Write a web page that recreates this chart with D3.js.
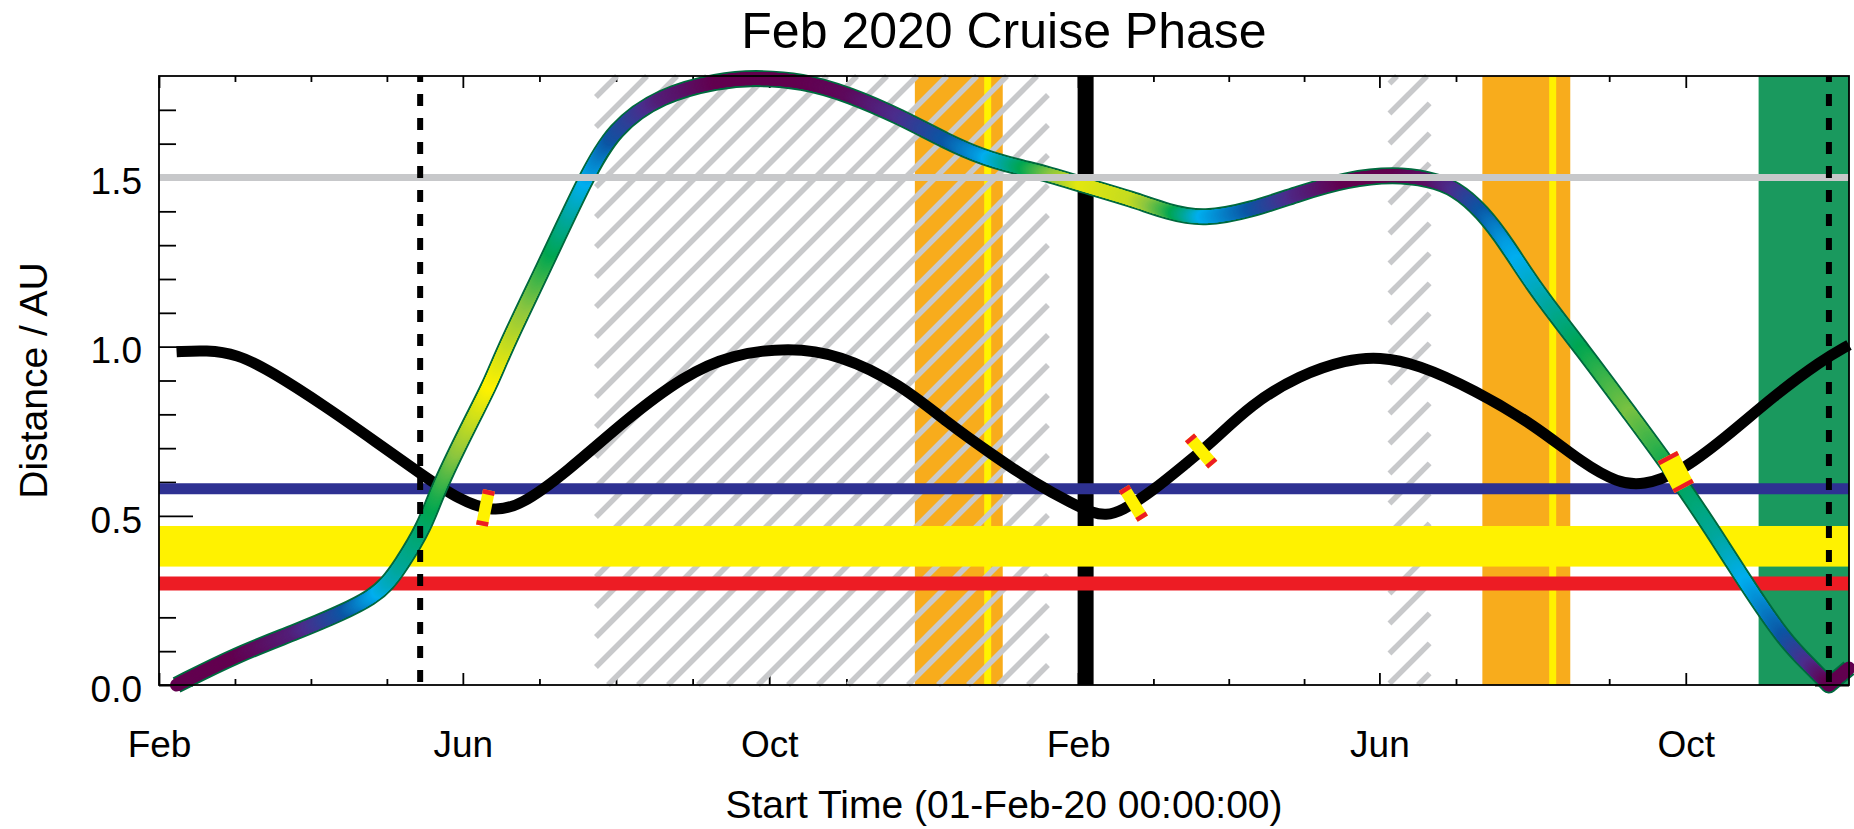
<!DOCTYPE html>
<html>
<head>
<meta charset="utf-8">
<script src="https://cdn.jsdelivr.net/npm/d3@7"></script>
<style>
  body { margin: 0; background: #fff; }
  svg { display: block; font-family: "Liberation Sans", Arial, Helvetica, sans-serif; }
</style>
</head>
<body>
<svg id="chart" width="1854" height="829"></svg>
<script>
// ---- data ----
const xDomain = ["2020-02-01", "2021-12-05"];
const majorTickDates = ["2020-02-01", "2020-06-01", "2020-10-01", "2021-02-01", "2021-06-01", "2021-10-01", "2022-02-01"];
const majorTickLabels = ["Feb", "Jun", "Oct", "Feb", "Jun", "Oct", "Feb"];
const yTickValues = [0, 0.5, 1.0, 1.5];
const yTickLabels = ["0.0", "0.5", "1.0", "1.5"];

// distance from the Sun (black curve)
const sunDates = ["2020-02-08", "2020-02-20", "2020-03-03", "2020-03-16", "2020-04-08", "2020-04-28",
  "2020-05-15", "2020-05-31", "2020-06-13", "2020-06-24", "2020-07-12", "2020-08-05", "2020-08-28",
  "2020-09-16", "2020-10-09", "2020-10-29", "2020-11-22", "2020-12-11", "2020-12-29", "2021-01-15",
  "2021-01-30", "2021-02-07", "2021-02-12", "2021-02-18", "2021-03-03", "2021-03-16", "2021-03-26",
  "2021-04-11", "2021-04-30", "2021-05-19", "2021-06-01", "2021-06-16", "2021-07-09", "2021-08-02",
  "2021-08-21", "2021-09-04", "2021-09-14", "2021-09-28", "2021-10-17", "2021-11-05", "2021-11-24",
  "2021-12-05"];
const sunDist = [0.985, 0.99, 0.978, 0.93, 0.82, 0.715,
  0.625, 0.545, 0.512, 0.53, 0.627, 0.785, 0.914,
  0.977, 0.998, 0.977, 0.89, 0.775, 0.68, 0.595,
  0.535, 0.508, 0.502, 0.512, 0.575, 0.655, 0.715,
  0.83, 0.915, 0.962, 0.97, 0.949, 0.872, 0.767,
  0.655, 0.597, 0.59, 0.625, 0.732, 0.854, 0.959,
  1.005];

// distance from the Earth (coloured curve) and its colour index
const earthDates = ["2020-02-08", "2020-03-03", "2020-03-26", "2020-04-14", "2020-04-26", "2020-05-02",
  "2020-05-07", "2020-05-17", "2020-05-22", "2020-06-05", "2020-06-12", "2020-06-18", "2020-07-03",
  "2020-07-20", "2020-07-31", "2020-08-19", "2020-09-11", "2020-09-25", "2020-10-14", "2020-11-02",
  "2020-11-22", "2020-12-11", "2020-12-25", "2021-01-07", "2021-01-21", "2021-02-03", "2021-02-23",
  "2021-03-09", "2021-03-23", "2021-04-11", "2021-04-30", "2021-05-19", "2021-06-07", "2021-06-21",
  "2021-07-01", "2021-07-12", "2021-07-22", "2021-08-02", "2021-08-21", "2021-09-09", "2021-09-27",
  "2021-10-14", "2021-10-25", "2021-11-09", "2021-11-19", "2021-11-27", "2021-12-05"];
const earthDist = [0.0, 0.09, 0.155, 0.214, 0.26, 0.30,
  0.35, 0.47, 0.58, 0.79, 0.89, 1.0, 1.23,
  1.5, 1.645, 1.745, 1.787, 1.795, 1.787, 1.745,
  1.68, 1.605, 1.56, 1.533, 1.508, 1.478, 1.435,
  1.397, 1.376, 1.404, 1.453, 1.495, 1.51, 1.495,
  1.47, 1.40, 1.30, 1.17, 0.99, 0.80, 0.62,
  0.43, 0.30, 0.135, 0.06, 0.0, 0.05];
const earthColour = [0, 0, 0.1, 0.28, 0.42, 0.5,
  0.55, 0.62, 0.68, 0.9, 1.0, 0.92, 0.7,
  0.45, 0.28, 0.1, 0, 0, 0, 0.03,
  0.15, 0.3, 0.42, 0.6, 0.78, 0.95, 0.9,
  0.7, 0.45, 0.3, 0.12, 0, 0, 0.05,
  0.15, 0.3, 0.42, 0.5, 0.65, 0.78, 0.65,
  0.55, 0.45, 0.3, 0.15, 0, 0];

const hatchWindows = [["2020-07-24", "2021-01-20"], ["2021-06-05", "2021-06-21"]];
const venusWindows = [["2020-11-28", "2021-01-02"], ["2021-07-12", "2021-08-16"]];
const venusFlybys = ["2020-12-27", "2021-08-09"];
const earthWindows = [["2021-10-30", "2021-12-05"]];
const dashedDates = ["2020-05-15", "2021-11-27"];
const solidDates = ["2021-02-04"];
const markerDates = ["2020-06-10", "2021-02-23", "2021-03-22", "2021-09-27"];
const yellowBand = [0.35, 0.47];
const redLevel = [0.3];
const blueLevel = [0.58];
const grayLevel = [1.5];

// ---- setup ----
const parse = d3.utcParse("%Y-%m-%d");
const L = 159, R = 1849, T = 76, B = 685;
const x = d3.scaleUtc().domain(xDomain.map(parse)).range([L, R]);
const y = d3.scaleLinear().domain([0, 1.8]).range([B, T]);

const colourStops = [0, 0.15, 0.3, 0.45, 0.55, 0.65, 0.8, 1];
const colourRamp = ["#62004f", "#4b2d8c", "#0b56a4", "#00aeef", "#00a79d", "#00a651", "#8cc63f", "#fff200"];
const ramp = d3.scaleLinear().domain(colourStops).range(colourRamp).interpolate(d3.interpolateRgb);

const svg = d3.select("#chart");
const FONT = 37;

// minor ticks: 3 equally spaced between each pair of majors (IDL style)
const majors = majorTickDates.map(parse);
const minorX = [];
for (let i = 0; i < majors.length - 1; i++) {
  const a = majors[i].getTime(), b = majors[i + 1].getTime();
  for (let k = 1; k < 4; k++) {
    const t = new Date(a + (b - a) * k / 4);
    if (t <= x.domain()[1]) minorX.push(t);
  }
}
const majorsIn = majors.filter(d => d <= x.domain()[1]);
const minorY = d3.range(1, 18).map(i => i / 10).filter(v => Math.abs(v * 2 - Math.round(v * 2)) > 1e-6);

function styleAxis(g) {
  g.select(".domain").remove();
  g.selectAll("line").attr("stroke", "#000").attr("stroke-width", 1.8);
  g.attr("font-size", FONT).attr("font-family", null);
  g.selectAll("text").attr("fill", "#000");
}

// ticks (under the bands)
const axes = svg.append("g");
axes.append("g").attr("transform", `translate(0,${B})`)
  .call(d3.axisBottom(x).tickValues(majorsIn).tickSize(-12).tickPadding(46)
    .tickFormat((d, i) => majorTickLabels[i]))
  .call(styleAxis);
axes.append("g").attr("transform", `translate(0,${B})`)
  .call(d3.axisBottom(x).tickValues(minorX).tickSize(-6).tickFormat(""))
  .call(styleAxis);
axes.append("g").attr("transform", `translate(0,${T})`)
  .call(d3.axisTop(x).tickValues(majorsIn).tickSize(-12).tickFormat(""))
  .call(styleAxis);
axes.append("g").attr("transform", `translate(0,${T})`)
  .call(d3.axisTop(x).tickValues(minorX).tickSize(-6).tickFormat(""))
  .call(styleAxis);
axes.append("g").attr("transform", `translate(${L},0)`)
  .call(d3.axisLeft(y).tickValues(yTickValues).tickSize(-34).tickPadding(17)
    .tickFormat((d, i) => yTickLabels[i]))
  .call(styleAxis)
  .call(g => g.selectAll("text").attr("dy", "0.44em"));
axes.append("g").attr("transform", `translate(${L},0)`)
  .call(d3.axisLeft(y).tickValues(minorY).tickSize(-17).tickFormat(""))
  .call(styleAxis);
axes.append("g").attr("transform", `translate(${R},0)`)
  .call(d3.axisRight(y).tickValues(yTickValues).tickSize(-34).tickFormat(""))
  .call(styleAxis);
axes.append("g").attr("transform", `translate(${R},0)`)
  .call(d3.axisRight(y).tickValues(minorY).tickSize(-17).tickFormat(""))
  .call(styleAxis);

const plot = svg.append("g");

// Venus flyby windows + flyby day
plot.selectAll(".venus").data(venusWindows).join("rect")
  .attr("x", d => x(parse(d[0]))).attr("width", d => x(parse(d[1])) - x(parse(d[0])))
  .attr("y", T).attr("height", B - T).attr("fill", "#f8ac1c");
plot.selectAll(".vfb").data(venusFlybys).join("line")
  .attr("x1", d => x(parse(d))).attr("x2", d => x(parse(d)))
  .attr("y1", T).attr("y2", B).attr("stroke", "#fff200").attr("stroke-width", 7);
// Earth flyby window
plot.selectAll(".earthwin").data(earthWindows).join("rect")
  .attr("x", d => x(parse(d[0]))).attr("width", d => x(parse(d[1])) - x(parse(d[0])))
  .attr("y", T).attr("height", B - T).attr("fill", "#1a995e");

// hatched windows
function hatchSegments(x0, x1, y0, y1, gap, phase) {
  const segs = [];
  const kStart = Math.ceil((x0 + y0 - phase) / gap) * gap + phase;
  for (let k = kStart; k <= x1 + y1; k += gap) {
    let xa = k - y1, ya = y1;
    if (xa < x0) { xa = x0; ya = k - x0; }
    let xb = k - y0, yb = y0;
    if (xb > x1) { xb = x1; yb = k - x1; }
    if (xa < xb) segs.push([xa, ya, xb, yb]);
  }
  return segs;
}
const hatch = plot.append("g");
hatchWindows.forEach(w => {
  const segs = hatchSegments(x(parse(w[0])), x(parse(w[1])), T, B, 30, 3);
  hatch.selectAll(null).data(segs).join("line")
    .attr("x1", d => d[0]).attr("y1", d => d[1]).attr("x2", d => d[2]).attr("y2", d => d[3])
    .attr("stroke", "#c8c9cb").attr("stroke-width", 5.5).attr("stroke-linecap", "butt");
});

// solid event line
plot.selectAll(".solid").data(solidDates).join("line")
  .attr("x1", d => x(parse(d))).attr("x2", d => x(parse(d)))
  .attr("y1", T).attr("y2", B).attr("stroke", "#000").attr("stroke-width", 16);

// horizontal reference levels
plot.append("rect").attr("x", L).attr("width", R - L)
  .attr("y", y(yellowBand[1])).attr("height", y(yellowBand[0]) - y(yellowBand[1]))
  .attr("fill", "#fff200");
plot.selectAll(".red").data(redLevel).join("line")
  .attr("x1", L).attr("x2", R).attr("y1", d => y(d)).attr("y2", d => y(d))
  .attr("stroke", "#ed1c24").attr("stroke-width", 14);
plot.selectAll(".blue").data(blueLevel).join("line")
  .attr("x1", L).attr("x2", R).attr("y1", d => y(d)).attr("y2", d => y(d))
  .attr("stroke", "#2e3192").attr("stroke-width", 11);

// black curve: Sun distance
const sunPts = sunDates.map((d, i) => ({ t: parse(d), v: sunDist[i] }));
const line = d3.line().x(d => x(d.t)).y(d => y(d.v)).curve(d3.curveBasis);
const sunPath = plot.append("path").attr("d", line(sunPts))
  .attr("fill", "none").attr("stroke", "#000").attr("stroke-width", 11);

// coloured curve: Earth distance, sharp V at the flyby
const earthPts = earthDates.map((d, i) => ({ t: parse(d), v: earthDist[i], c: earthColour[i] }));
const flyIdx = earthDates.indexOf("2021-11-27");
const dA = line(earthPts.slice(0, flyIdx + 1));
const dB = line(earthPts.slice(flyIdx)).replace(/^M[^A-Za-z]*/, "");
const earthPath = plot.append("path").attr("d", dA + dB)
  .attr("fill", "none").attr("stroke", "#00693e").attr("stroke-width", 17)
  .attr("stroke-linejoin", "round");
const colIdx = d3.scaleUtc().domain(earthPts.map(d => d.t)).range(earthPts.map(d => d.c)).clamp(true);
const en = earthPath.node();
const eLen = en.getTotalLength();
const segs = [];
const step = 1.5;
for (let s = 0; s < eLen; s += step) {
  const p0 = en.getPointAtLength(s), p1 = en.getPointAtLength(Math.min(s + step, eLen));
  const c = colIdx(x.invert((p0.x + p1.x) / 2));
  segs.push([p0.x, p0.y, p1.x, p1.y, ramp(c)]);
}
plot.append("g").selectAll("line").data(segs).join("line")
  .attr("x1", d => d[0]).attr("y1", d => d[1]).attr("x2", d => d[2]).attr("y2", d => d[3])
  .attr("stroke", d => d[4]).attr("stroke-width", 13).attr("stroke-linecap", "round");

// grey 1.5 AU level (drawn over the coloured curve)
plot.selectAll(".gray").data(grayLevel).join("line")
  .attr("x1", L).attr("x2", R).attr("y1", d => y(d)).attr("y2", d => y(d))
  .attr("stroke", "#c7c8ca").attr("stroke-width", 7);

// markers on the black curve, long side across the curve
const sn = sunPath.node();
const sLen = sn.getTotalLength();
function lengthAtX(px) {
  let lo = 0, hi = sLen;
  for (let i = 0; i < 40; i++) {
    const mid = (lo + hi) / 2;
    if (sn.getPointAtLength(mid).x < px) lo = mid; else hi = mid;
  }
  return lo;
}
markerDates.forEach((d, i) => {
  const s = lengthAtX(x(parse(d)));
  const p = sn.getPointAtLength(s);
  const pa = sn.getPointAtLength(Math.max(0, s - 2)), pb = sn.getPointAtLength(Math.min(sLen, s + 2));
  const ang = Math.atan2(pb.y - pa.y, pb.x - pa.x) * 180 / Math.PI;
  const w = i === 3 ? 22 : 12, len = 36, cap = 4.5;
  const g = plot.append("g").attr("transform", `translate(${p.x},${p.y}) rotate(${ang})`);
  g.append("rect").attr("x", -w / 2).attr("y", -len / 2).attr("width", w).attr("height", len).attr("fill", "#fff200");
  g.append("rect").attr("x", -w / 2).attr("y", -len / 2).attr("width", w).attr("height", cap).attr("fill", "#ed1c24");
  g.append("rect").attr("x", -w / 2).attr("y", len / 2 - cap).attr("width", w).attr("height", cap).attr("fill", "#ed1c24");
});

// dashed event lines
plot.selectAll(".dash").data(dashedDates).join("line")
  .attr("x1", d => x(parse(d))).attr("x2", d => x(parse(d)))
  .attr("y1", T).attr("y2", B).attr("stroke", "#000").attr("stroke-width", 6)
  .attr("stroke-dasharray", "12,12").attr("stroke-dashoffset", 6);

// frame
svg.append("rect").attr("x", L).attr("y", T).attr("width", R - L).attr("height", B - T)
  .attr("fill", "none").attr("stroke", "#000").attr("stroke-width", 1.8);

// titles
svg.append("text").attr("x", (L + R) / 2).attr("y", 48).attr("text-anchor", "middle")
  .attr("font-size", 50).text("Feb 2020 Cruise Phase");
svg.append("text").attr("x", (L + R) / 2).attr("y", 818).attr("text-anchor", "middle")
  .attr("font-size", 39).text("Start Time (01-Feb-20 00:00:00)");
svg.append("text").attr("transform", `translate(47,${(T + B) / 2}) rotate(-90)`)
  .attr("text-anchor", "middle").attr("font-size", 39).text("Distance / AU");
</script>
</body>
</html>
